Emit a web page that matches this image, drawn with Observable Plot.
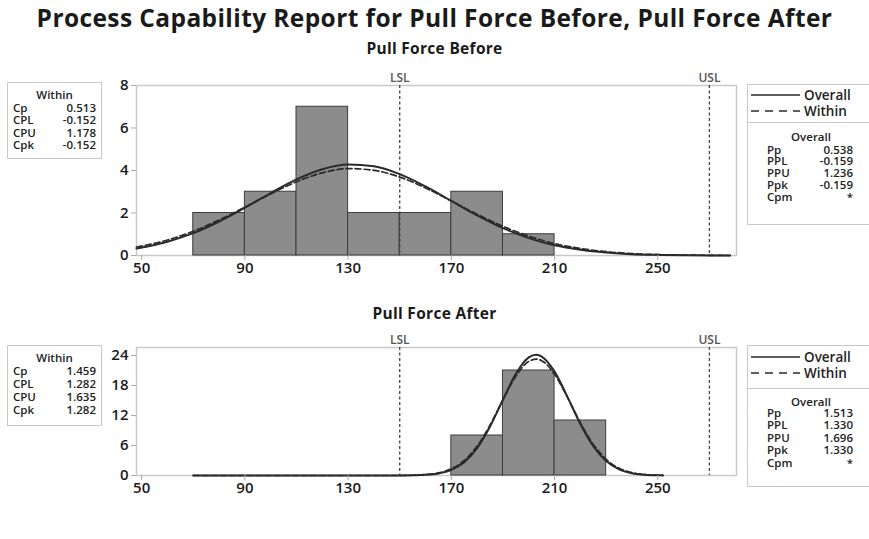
<!DOCTYPE html>
<html>
<head>
<meta charset="utf-8">
<script src="https://cdn.jsdelivr.net/npm/d3@7"></script>
<script src="https://cdn.jsdelivr.net/npm/@observablehq/plot@0.6"></script>
<style>
  body { margin: 0; background: #fff; }
  #root { position: relative; width: 869px; height: 539px; overflow: hidden; font-family: "Open Sans", sans-serif; color: #222; }
  .abs { position: absolute; white-space: nowrap; }
  .box { position: absolute; border: 1.5px solid #c9c9c9; box-sizing: border-box; background: #fff; }
  svg { position: absolute; overflow: visible; }
</style>
</head>
<body>
<div id="root"></div>
<script>
// ---------- data ----------
const chartTitle = "Process Capability Report for Pull Force Before, Pull Force After";
const panelTitles = ["Pull Force Before", "Pull Force After"];
const xTicks = [50, 90, 130, 170, 210, 250];
const xDomain = [48, 280.5];
const specLabels = ["LSL", "USL"];
const specValues = [150, 270];

// histogram: bin edges and counts
const beforeEdges = [70, 90, 110, 130, 150, 170, 190, 210];
const beforeCounts = [2, 3, 7, 2, 2, 3, 1];
const afterEdges = [170, 190, 210, 230];
const afterCounts = [8, 21, 11];

// fitted curves
const beforeCurveX = [48, 60, 70, 80, 90, 100, 110, 120, 130, 140, 150, 160, 170, 180, 190, 200, 210, 220, 230, 240, 250, 260, 270, 278];
const beforeOverall = [0.33, 0.65, 1.05, 1.60, 2.25, 2.94, 3.58, 4.06, 4.28, 4.20, 3.83, 3.25, 2.57, 1.89, 1.29, 0.82, 0.48, 0.27, 0.14, 0.06, 0.03, 0.01, 0.00, 0.00];
const beforeWithin  = [0.40, 0.73, 1.14, 1.67, 2.27, 2.90, 3.47, 3.89, 4.09, 4.01, 3.69, 3.18, 2.56, 1.94, 1.37, 0.91, 0.56, 0.33, 0.18, 0.09, 0.04, 0.02, 0.01, 0.00];

const afterCurveX = [70, 150, 155, 160, 165, 170, 175, 180, 185, 190, 195, 200, 203, 205, 210, 215, 220, 225, 230, 235, 240, 245, 250, 252];
const afterOverall = [0, 0.01, 0.04, 0.13, 0.41, 1.12, 2.67, 5.49, 9.80, 15.16, 20.33, 23.62, 24.13, 23.79, 20.77, 15.72, 10.31, 5.86, 2.89, 1.23, 0.46, 0.15, 0.04, 0.02];
const afterWithin  = [0, 0.00, 0.05, 0.18, 0.53, 1.35, 3.00, 5.88, 10.08, 15.11, 19.84, 22.82, 23.28, 22.97, 20.24, 15.61, 10.55, 6.24, 3.23, 1.46, 0.58, 0.20, 0.06, 0.04];

const beforeYTicks = [0, 2, 4, 6, 8];
const beforeYDomain = [0, 8];
const afterYTicks = [0, 6, 12, 18, 24];
const afterYDomain = [0, 25.6];

const withinLabels = ["Cp", "CPL", "CPU", "Cpk"];
const withinBefore = ["0.513", "-0.152", "1.178", "-0.152"];
const withinAfter = ["1.459", "1.282", "1.635", "1.282"];
const overallLabels = ["Pp", "PPL", "PPU", "Ppk", "Cpm"];
const overallBefore = ["0.538", "-0.159", "1.236", "-0.159", "*"];
const overallAfter = ["1.513", "1.330", "1.696", "1.330", "*"];
const legendLabels = ["Overall", "Within"];

// ---------- build ----------
const root = document.getElementById("root");
function addText(txt, css) {
  const d = document.createElement("div");
  d.className = "abs";
  d.textContent = txt;
  Object.assign(d.style, css);
  root.appendChild(d);
  return d;
}
function addBox(css) {
  const d = document.createElement("div");
  d.className = "box";
  Object.assign(d.style, css);
  root.appendChild(d);
  return d;
}

addText(chartTitle, {left: "0px", width: "869px", textAlign: "center", top: "2px", fontSize: "24.5px", letterSpacing: "0.4px", fontWeight: 700, color: "#1a1a1a", lineHeight: "32px"});

const specs = specLabels.map((l, i) => ({label: l, value: specValues[i]}));

function panel(edges, counts, cx, ov, wi, yDomain, yTicks, h) {
  const bins = counts.map((c, i) => ({lo: edges[i], hi: edges[i + 1], count: c}));
  const curve = cx.map((x, i) => ({x, overall: ov[i], within: wi[i]}));
  return Plot.plot({
    width: 745, height: h,
    marginLeft: 136, marginRight: 9, marginTop: 25, marginBottom: 30,
    x: {domain: xDomain, label: null},
    y: {domain: yDomain, label: null},
    style: {fontFamily: "Open Sans", background: "transparent", color: "#222"},
    marks: [
      Plot.frame({stroke: "#c9c9c9", strokeWidth: 1.5}),
      Plot.rectY(bins, {x1: "lo", x2: "hi", y: "count", fill: "#8c8c8c", stroke: "#3c3c3c", strokeWidth: 1}),
      Plot.ruleX(specs, {x: "value", stroke: "#444", strokeWidth: 1.3, strokeDasharray: "3,2.5"}),
      Plot.text(specs, {x: "value", text: "label", frameAnchor: "top", dy: -12, fontSize: 12, fontWeight: 600, fill: "#555"}),
      Plot.line(curve, {x: "x", y: "within", stroke: "#2a2a2a", strokeWidth: 1.7, strokeDasharray: "6,3", curve: "monotone-x"}),
      Plot.line(curve, {x: "x", y: "overall", stroke: "#2a2a2a", strokeWidth: 2, curve: "monotone-x"}),
      Plot.axisX({ticks: xTicks, tickSize: 5, tickPadding: 2, stroke: "#aaa", fill: "#1a1a1a", fontSize: 15, fontWeight: 600, label: null}),
      Plot.axisY({ticks: yTicks, tickSize: 5, tickPadding: 3, stroke: "#aaa", fill: "#1a1a1a", fontSize: 15, fontWeight: 600, label: null})
    ]
  });
}

const p1 = panel(beforeEdges, beforeCounts, beforeCurveX, beforeOverall, beforeWithin, beforeYDomain, beforeYTicks, 225);
p1.style.left = "0px"; p1.style.top = "60px";
root.appendChild(p1);
const p2 = panel(afterEdges, afterCounts, afterCurveX, afterOverall, afterWithin, afterYDomain, afterYTicks, 183);
p2.style.left = "0px"; p2.style.top = "322px";
root.appendChild(p2);

addText(panelTitles[0], {left: "0px", width: "869px", textAlign: "center", top: "37px", fontSize: "15.5px", letterSpacing: "0.3px", fontWeight: 700, color: "#1a1a1a", lineHeight: "22px"});
addText(panelTitles[1], {left: "0px", width: "869px", textAlign: "center", top: "302px", fontSize: "15.5px", letterSpacing: "0.3px", fontWeight: 700, color: "#1a1a1a", lineHeight: "22px"});

const FS = "11.5px";
// stats boxes
function statBox(left, top, width, height, header, headerY, labels, values, firstY, step, labelX, valueR) {
  const lh = Math.floor(step);
  addBox({left: left + "px", top: top + "px", width: width + "px", height: height + "px"});
  addText(header, {left: left + "px", width: width + "px", textAlign: "center", top: (headerY - lh / 2) + "px", fontSize: FS, fontWeight: 600, lineHeight: lh + "px"});
  labels.forEach((l, i) => {
    const y = firstY + i * step - lh / 2;
    addText(l, {left: labelX + "px", top: y + "px", fontSize: FS, fontWeight: 600, lineHeight: lh + "px"});
    addText(values[i], {left: (valueR - 50) + "px", width: "50px", textAlign: "right", top: y + "px", fontSize: FS, fontWeight: 600, lineHeight: lh + "px"});
  });
}
function legendBox(top, yOverall, yWithin, boxBottom, statsTop, headerY, values, firstY, step) {
  const lh = Math.floor(step);
  addBox({left: "747px", top: top + "px", width: "130px", height: (statsTop - top + 1) + "px"});
  addBox({left: "747px", top: statsTop + "px", width: "130px", height: (boxBottom - statsTop) + "px"});
  const svg = d3.create("svg").attr("width", 60).attr("height", 40)
    .style("left", "748px").style("top", (top) + "px");
  svg.append("line").attr("x1", 3).attr("x2", 52).attr("y1", yOverall - top).attr("y2", yOverall - top)
    .attr("stroke", "#2a2a2a").attr("stroke-width", 1.6);
  svg.append("line").attr("x1", 3).attr("x2", 52).attr("y1", yWithin - top).attr("y2", yWithin - top)
    .attr("stroke", "#2a2a2a").attr("stroke-width", 1.6).attr("stroke-dasharray", "8,6");
  root.appendChild(svg.node());
  addText(legendLabels[0], {left: "804px", top: (yOverall - 8) + "px", fontSize: "13.5px", fontWeight: 600, lineHeight: "16px"});
  addText(legendLabels[1], {left: "804px", top: (yWithin - 8) + "px", fontSize: "13.5px", fontWeight: 600, lineHeight: "16px"});
  addText("Overall", {left: "770px", width: "82px", textAlign: "center", top: (headerY - lh / 2) + "px", fontSize: FS, fontWeight: 600, lineHeight: lh + "px"});
  overallLabels.forEach((l, i) => {
    const y = firstY + i * step - lh / 2;
    addText(l, {left: "767px", top: y + "px", fontSize: FS, fontWeight: 600, lineHeight: lh + "px"});
    addText(values[i], {left: "803px", width: "50px", textAlign: "right", top: y + "px", fontSize: FS, fontWeight: 600, lineHeight: lh + "px"});
  });
}

statBox(7, 82, 95, 77, "Within", 95, withinLabels, withinBefore, 108, 12.3, 13, 96);
statBox(7, 345, 95, 81, "Within", 357, withinLabels, withinAfter, 370, 13.3, 13, 96);
legendBox(84, 95, 111, 225, 122, 136, overallBefore, 149, 11.8);
legendBox(345, 357, 373, 487, 388, 402, overallAfter, 413, 12.4);
</script>
</body>
</html>
